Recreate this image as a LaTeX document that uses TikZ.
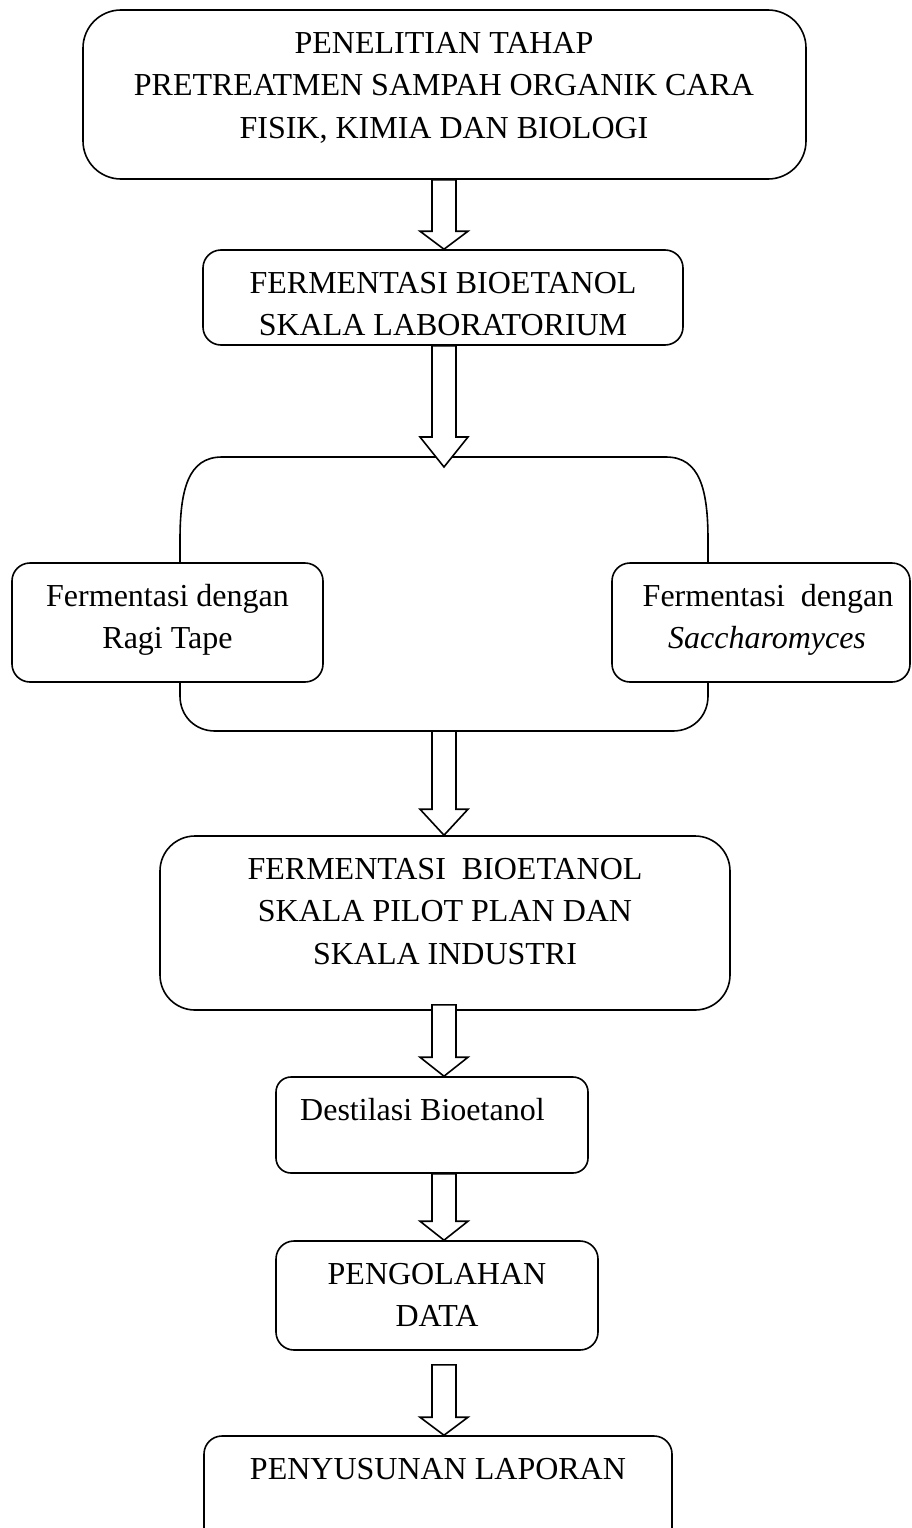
\documentclass[tikz,border=0pt]{standalone}
\usepackage{fontspec}
\setmainfont{Liberation Serif}
\usetikzlibrary{calc}
\newcommand\blockarr[3]{%
  \draw[barrow] ($(#1 -| axis)+(-12,0)$) -- ($(#2 -| axis)+(-12,-#3)$) -- ($(#2 -| axis)+(-24,-#3)$)
    -- (#2 -| axis) -- ($(#2 -| axis)+(24,-#3)$) -- ($(#2 -| axis)+(12,-#3)$) -- ($(#1 -| axis)+(12,0)$) -- cycle;}
\begin{document}
\begin{tikzpicture}[x=1pt,y=-1pt,
  box/.style={draw, line width=1.6pt, fill=white, inner sep=0pt},
  txt/.style={anchor=base, font=\fontsize{32}{38}\selectfont, inner sep=0pt},
  barrow/.style={draw, line width=1.6pt, fill=white, line join=miter}]
\clip (0,0) rectangle (912,1528);
\coordinate (axis) at (444,0);
% boxes
\node[box, rounded corners=38pt, minimum width=723pt, minimum height=169pt] (b1) at (444.5,94.5) {};
\node[box, rounded corners=18pt, minimum width=480pt, minimum height=95pt] (b2) at (443,297.5) {};
% bracket
\coordinate (brtop) at (444,457);
\coordinate (brbot) at (444,731);
\draw[line width=1.6pt] (180,696) -- (180,540) .. controls (180,490) and (188,457) .. (222,457)
  -- (666,457) .. controls (700,457) and (708,490) .. (708,540) -- (708,696)
  .. controls (708,716) and (693,731) .. (673,731) -- (215,731)
  .. controls (195,731) and (180,716) .. (180,696) -- cycle;
\node[box, rounded corners=18pt, minimum width=311pt, minimum height=119pt] (bl) at (167.5,622.5) {};
\node[box, rounded corners=18pt, minimum width=298pt, minimum height=119pt] (br) at (761,622.5) {};
\node[box, rounded corners=35pt, minimum width=570pt, minimum height=174pt] (b4) at (445,923) {};
\node[box, rounded corners=15pt, minimum width=312pt, minimum height=96pt] (b5) at (432,1125) {};
\node[box, rounded corners=18pt, minimum width=322pt, minimum height=109pt] (b6) at (437,1295.5) {};
\node[box, rounded corners=18pt, minimum width=468pt, minimum height=120pt] (b7) at (438,1496) {};
% texts
\node[txt] (t1a) at (444,53.5) {PENELITIAN TAHAP};
\node[txt] (t1b) at (444,95.8) {PRETREATMEN SAMPAH ORGANIK CARA};
\node[txt] (t1c) at (444,138.1) {FISIK, KIMIA DAN BIOLOGI};
\node[txt] (t2a) at (443,293.5) {FERMENTASI BIOETANOL};
\node[txt] (t2b) at (443,335.8) {SKALA LABORATORIUM};
\node[txt] (tla) at (167.5,606.5) {Fermentasi dengan};
\node[txt] (tlb) at (167.5,648.8) {Ragi Tape};
\node[txt] (tra) at (768,606.5) {Fermentasi \ dengan};
\node[txt] (trb) at (767,648.8) {\itshape Saccharomyces};
\node[txt] (t4a) at (445,879.5) {FERMENTASI \ BIOETANOL};
\node[txt] (t4b) at (445,921.8) {SKALA PILOT PLAN DAN};
\node[txt] (t4c) at (445,964.1) {SKALA INDUSTRI};
\node[txt, anchor=base west] (t5) at (300,1120.5) {Destilasi Bioetanol};
\node[txt] (t6a) at (437,1284.5) {PENGOLAHAN};
\node[txt] (t6b) at (437,1326.8) {DATA};
\node[txt] (t7) at (438,1479.5) {PENYUSUNAN LAPORAN};
% arrow end points
\coordinate (a2t) at ($(brtop)+(0,10)$);
\coordinate (a4s) at ($(b4.south)+(0,-6)$);
\coordinate (a6s) at ($(b6.south)+(0,14)$);
% arrows
\blockarr{b1.south}{b2.north}{18}
\blockarr{b2.south}{a2t}{30}
\blockarr{brbot}{b4.north}{26}
\blockarr{a4s}{b5.north}{19}
\blockarr{b5.south}{b6.north}{19}
\blockarr{a6s}{b7.north}{18}
\end{tikzpicture}
\end{document}
